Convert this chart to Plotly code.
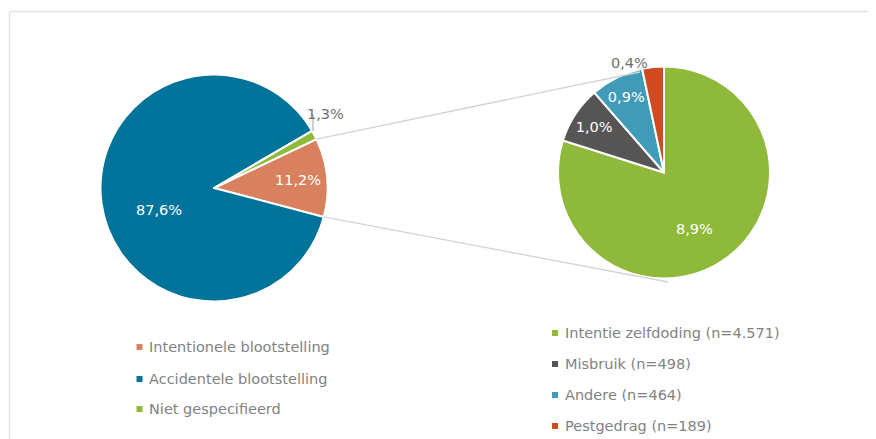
import math
import plotly.graph_objects as go

W, H = 876, 439
OFF = 8  # page body margin

# ---- data ----
main_labels = ["Intentionele blootstelling", "Accidentele blootstelling", "Niet gespecifieerd"]
main_values = [11.2, 87.6, 1.3]
main_text = ["11,2%", "87,6%", "1,3%"]
main_colors = ["#D9805F", "#00739A", "#8FB93B"]

sub_labels = ["Intentie zelfdoding (n=4.571)", "Misbruik (n=498)", "Andere (n=464)", "Pestgedrag (n=189)"]
sub_values = [4571, 498, 464, 189]
sub_text = ["8,9%", "1,0%", "0,9%", "0,4%"]
sub_colors = ["#8FB93B", "#555555", "#409BB9", "#D04B1F"]

FONT = "DejaVu Sans"
GRAY = "#828282"
LBL_GRAY = "#707070"
FS = 14.5


def px(x):
    return (x - OFF) / W


def py(y):
    return 1 - (y - OFF) / H


# pie geometry (screen pixels)
L_C, L_R = (214, 188), 113.5
R_C, R_R = (664, 172.5), 106
L_ROT = 64.5

fig = go.Figure()
fig.add_trace(go.Pie(
    labels=main_labels, values=main_values, text=main_text,
    textinfo="text", textposition=["inside", "none", "none"],
    insidetextorientation="horizontal",
    sort=False, direction="clockwise", rotation=L_ROT,
    marker=dict(colors=main_colors, line=dict(color="white", width=2)),
    textfont=dict(family=FONT, size=FS, color="white"),
    domain=dict(x=[px(L_C[0] - L_R), px(L_C[0] + L_R)],
                y=[py(L_C[1] + L_R), py(L_C[1] - L_R)]),
    showlegend=False, hoverinfo="label+text",
))
fig.add_trace(go.Pie(
    labels=sub_labels, values=sub_values, text=sub_text,
    textinfo="text", textposition=["none", "inside", "inside", "none"],
    insidetextorientation="horizontal",
    sort=False, direction="clockwise", rotation=0,
    marker=dict(colors=sub_colors, line=dict(color="white", width=2)),
    textfont=dict(family=FONT, size=FS, color="white"),
    domain=dict(x=[px(R_C[0] - R_R), px(R_C[0] + R_R)],
                y=[py(R_C[1] + R_R), py(R_C[1] - R_R)]),
    showlegend=False, hoverinfo="label+text",
))

shapes = []
annotations = []
# frame lines
shapes.append(dict(type="line", xref="paper", yref="paper", x0=px(9.5), x1=1.1, y0=py(11.5), y1=py(11.5),
                   line=dict(color="#E2E2E2", width=1.5)))
shapes.append(dict(type="line", xref="paper", yref="paper", x0=px(9.5), x1=px(9.5), y0=-0.1, y1=py(11.5),
                   line=dict(color="#E2E2E2", width=1.5)))

# connector lines from the orange slice edges to the sub pie
tot = sum(main_values)
a1 = math.radians(L_ROT)
a2 = math.radians(L_ROT + main_values[0] / tot * 360)
p1 = (L_C[0] + L_R * math.sin(a1), L_C[1] - L_R * math.cos(a1))
p2 = (L_C[0] + L_R * math.sin(a2), L_C[1] - L_R * math.cos(a2))
for (sx, sy), (ex, ey) in [(p1, (640, 72)), (p2, (668, 282))]:
    shapes.append(dict(type="line", xref="paper", yref="paper", x0=px(sx), y0=py(sy), x1=px(ex), y1=py(ey),
                       line=dict(color="#D3D3D3", width=1.3)))

# labels placed like the original
shapes.append(dict(type="line", xref="paper", yref="paper", x0=px(313), x1=px(313), y0=py(131), y1=py(114),
                   line=dict(color="#A0A0A0", width=1)))
label_spots = [
    (main_text[1], 134, 210, "white"),
    (main_text[2], 325, 104, LBL_GRAY),
    (sub_text[0], 715, 229, "white"),
    (sub_text[3], 650, 53, LBL_GRAY),
]
for t, x, y, c in label_spots:
    annotations.append(dict(text=t, x=px(x), y=py(y), xref="paper", yref="paper",
                            showarrow=False, font=dict(family=FONT, size=FS, color=c)))

# custom legends
left_rows = [347, 379, 409]
for lab, col, yy in zip(main_labels, main_colors, left_rows):
    shapes.append(dict(type="rect", xref="paper", yref="paper", x0=px(136.5), x1=px(142.5),
                       y0=py(yy + 3), y1=py(yy - 3), fillcolor=col, line=dict(width=0)))
    annotations.append(dict(text=lab, x=px(147), y=py(yy), xref="paper", yref="paper",
                            xanchor="left", yanchor="middle", showarrow=False,
                            font=dict(family=FONT, size=FS, color=GRAY)))
right_rows = [333, 364, 395, 426]
for lab, col, yy in zip(sub_labels, sub_colors, right_rows):
    shapes.append(dict(type="rect", xref="paper", yref="paper", x0=px(552), x1=px(558),
                       y0=py(yy + 3), y1=py(yy - 3), fillcolor=col, line=dict(width=0)))
    annotations.append(dict(text=lab, x=px(563), y=py(yy), xref="paper", yref="paper",
                            xanchor="left", yanchor="middle", showarrow=False,
                            font=dict(family=FONT, size=FS, color=GRAY)))

fig.update_layout(
    width=W, height=H, margin=dict(l=0, r=0, t=0, b=0),
    paper_bgcolor="white", plot_bgcolor="white",
    shapes=shapes, annotations=annotations,
    font=dict(family=FONT),
)
fig.write_html("out.html")
